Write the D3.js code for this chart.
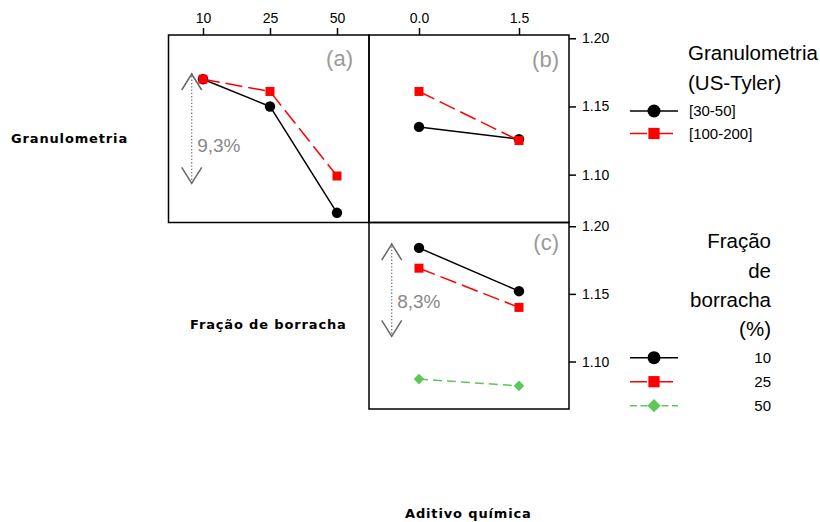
<!DOCTYPE html>
<html><head><meta charset="utf-8">
<script src="https://cdn.jsdelivr.net/npm/d3@7"></script>
<style>body{margin:0;background:#fff}</style>
</head><body><svg id="chart" width="820" height="522"></svg>
<script>
// ---------- DATA ----------
const fracaoLevels = ["10", "25", "50"];          // x of panel (a)
const aditivoLevels = ["0.0", "1.5"];             // x of panels (b),(c)
const granLevels = ["[30-50]", "[100-200]"];      // legend 1
const fracaoLegend = ["10", "25", "50"];          // legend 2
const aGran3050   = [1.170, 1.150, 1.072];
const aGran100200 = [1.170, 1.161, 1.099];
const bGran3050   = [1.135, 1.126];
const bGran100200 = [1.161, 1.125];
const cFrac10 = [1.184, 1.152];
const cFrac25 = [1.169, 1.140];
const cFrac50 = [1.087, 1.082];
const yTicks = [1.10, 1.15, 1.20];
const yDomain = [1.0649, 1.2024];
const annotA = { text: "9,3%", hi: 1.1738, lo: 1.0936, txt: 1.1164 };
const annotC = { text: "8,3%", hi: 1.1868, lo: 1.1186, txt: 1.1394 };

// ---------- STYLE ----------
const FONT = "'Liberation Sans', Arial, sans-serif";
const sBlack = { color: "#000", dash: null, marker: "circle", legDash: null, legEnd: 678 };
const sRed   = { color: "#ff0000", dash: "17,6", marker: "square", legDash: "17,9", legEnd: 673 };
const sGreen = { color: "#5ec75a", dash: "9,5", marker: "diamond", legDash: "7,3.5", legEnd: 678 };

const svg = d3.select("#chart");
const L = 168.5, M = 369, R = 569, T = 35, Mid = 222.5, B = 409;

const xA = d3.scalePoint().domain(fracaoLevels).range([169.5, 370.5]).padding(0.5);
const xB = d3.scalePoint().domain(aditivoLevels).range([M, R]).padding(0.5);
const yTop = d3.scaleLinear().domain(yDomain).range([Mid, T]);
const yBot = d3.scaleLinear().domain(yDomain).range([B, Mid + 0.5]);

function marker(g, type, cx, cy, color, big) {
  const k = big ? 1.25 : 1;
  if (type === "circle") {
    g.append("circle").attr("cx", cx).attr("cy", cy).attr("r", 5.2 * k).attr("fill", color);
  } else if (type === "square") {
    const s = 9 * k;
    g.append("rect").attr("x", cx - s / 2).attr("y", cy - s / 2).attr("width", s).attr("height", s).attr("fill", color);
  } else {
    g.append("path").attr("d", d3.symbol().type(d3.symbolSquare).size(56 * k * k)())
      .attr("transform", `translate(${cx},${cy}) rotate(45)`).attr("fill", color);
  }
}

function drawSeries(x, y, cats, vals, st) {
  const g = svg.append("g");
  g.append("path").datum(vals)
    .attr("d", d3.line().x((d, i) => x(cats[i])).y(d => y(d)))
    .attr("fill", "none").attr("stroke", st.color).attr("stroke-width", 1.5)
    .attr("stroke-dasharray", st.dash);
  vals.forEach((v, i) => marker(g, st.marker, x(cats[i]), y(v), st.color, false));
}

// series
drawSeries(xA, yTop, fracaoLevels, aGran3050, sBlack);
drawSeries(xA, yTop, fracaoLevels, aGran100200, sRed);
drawSeries(xB, yTop, aditivoLevels, bGran3050, sBlack);
drawSeries(xB, yTop, aditivoLevels, bGran100200, sRed);
drawSeries(xB, yBot, aditivoLevels, cFrac10, sBlack);
drawSeries(xB, yBot, aditivoLevels, cFrac25, sRed);
drawSeries(xB, yBot, aditivoLevels, cFrac50, sGreen);

// panel frames
[[L, T, M, Mid], [M, T, R, Mid], [M, Mid, R, B]].forEach(([x0, y0, x1, y1]) => {
  svg.append("rect").attr("x", x0).attr("y", y0).attr("width", x1 - x0).attr("height", y1 - y0)
    .attr("fill", "none").attr("stroke", "#000").attr("stroke-width", 1.5);
});

// axes
function styleAxis(g) {
  g.select(".domain").remove();
  g.selectAll(".tick line").attr("stroke", "#000").attr("stroke-width", 1.5);
  g.selectAll(".tick text").attr("font-family", FONT).attr("font-size", 14).attr("fill", "#000");
}
svg.append("g").attr("transform", `translate(0,${T})`)
  .call(d3.axisTop(xA).tickSize(7).tickPadding(5)).call(styleAxis);
svg.append("g").attr("transform", `translate(0,${T})`)
  .call(d3.axisTop(xB).tickSize(7).tickPadding(5)).call(styleAxis);
svg.append("g").attr("transform", `translate(${R},0)`)
  .call(d3.axisRight(yTop).tickValues(yTicks).tickFormat(d3.format(".2f")).tickSize(7).tickPadding(6)).call(styleAxis);
svg.append("g").attr("transform", `translate(${R},0)`)
  .call(d3.axisRight(yBot).tickValues(yTicks).tickFormat(d3.format(".2f")).tickSize(7).tickPadding(6)).call(styleAxis);

// panel letters
[["(a)", M - 16, 66], ["(b)", R - 10, 67], ["(c)", R - 10, 250]].forEach(([t, x, y]) => {
  svg.append("text").attr("x", x).attr("y", y).attr("text-anchor", "end")
    .attr("font-family", FONT).attr("font-size", 22).attr("fill", "#999").text(t);
});

// range annotations
function annot(a, x, y) {
  const g = svg.append("g").attr("stroke", "#666").attr("fill", "none").attr("stroke-width", 1.5);
  g.append("line").attr("x1", x).attr("x2", x).attr("y1", y(a.hi) - 1).attr("y2", y(a.lo))
    .attr("stroke", "#777").attr("stroke-width", 1.3).attr("stroke-dasharray", "1.3,2");
  g.append("polyline").attr("points", `${x - 10},${y(a.hi) + 16} ${x},${y(a.hi)} ${x + 10},${y(a.hi) + 16}`);
  g.append("polyline").attr("points", `${x - 10},${y(a.lo) - 16} ${x},${y(a.lo)} ${x + 10},${y(a.lo) - 16}`);
  svg.append("text").attr("x", x + 5.5).attr("y", y(a.txt))
    .attr("font-family", FONT).attr("font-size", 19).attr("fill", "#888").text(a.text);
}
annot(annotA, L + 23.2, yTop);
annot(annotC, M + 22.7, yBot);

// factor labels
[["Granulometria", 11, 143], ["Fração de borracha", 190, 329], ["Aditivo química", 405, 518]].forEach(([t, x, y]) => {
  svg.append("text").attr("x", x).attr("y", y)
    .attr("font-family", "'DejaVu Sans', Verdana, sans-serif").attr("font-weight", "bold")
    .attr("font-size", 13).attr("letter-spacing", 0.85).attr("fill", "#000").text(t);
});

// legends
function legendItem(y, st, label, lx, anchor) {
  const g = svg.append("g");
  g.append("line").attr("x1", 630).attr("x2", st.legEnd).attr("y1", y).attr("y2", y)
    .attr("stroke", st.color).attr("stroke-width", 1.5).attr("stroke-dasharray", st.legDash);
  marker(g, st.marker, 654, y, st.color, true);
  g.append("text").attr("x", lx).attr("y", y).attr("dy", "0.36em").attr("text-anchor", anchor)
    .attr("font-family", FONT).attr("font-size", 15).attr("fill", "#000").text(label);
}
[["Granulometria", 60], ["(US-Tyler)", 90]].forEach(([t, y]) => {
  svg.append("text").attr("x", 688).attr("y", y).attr("font-family", FONT)
    .attr("font-size", 20.5).attr("fill", "#000").text(t);
});
legendItem(111, sBlack, granLevels[0], 689, "start");
legendItem(133.5, sRed, granLevels[1], 689, "start");

[["Fração", 248], ["de", 277.5], ["borracha", 307], ["(%)", 336]].forEach(([t, y]) => {
  svg.append("text").attr("x", 771).attr("y", y).attr("text-anchor", "end").attr("font-family", FONT)
    .attr("font-size", 20.5).attr("fill", "#000").text(t);
});
legendItem(357.7, sBlack, fracaoLegend[0], 771, "end");
legendItem(381.7, sRed, fracaoLegend[1], 771, "end");
legendItem(405.7, sGreen, fracaoLegend[2], 771, "end");
</script></body></html>
